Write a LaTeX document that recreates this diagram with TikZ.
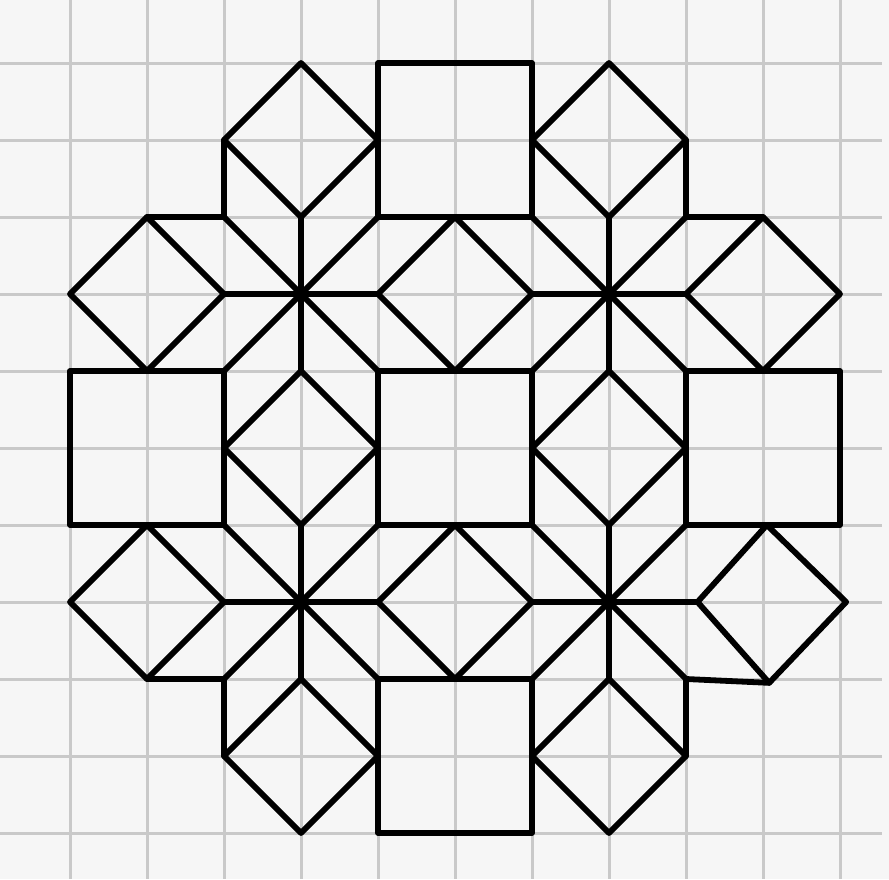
\documentclass[tikz,border=0pt]{standalone}
\begin{document}
\tikzset{
  paper/.style={fill=gray!7},
  gridline/.style={draw=gray!42, line width=3pt},
  ink/.style={draw=black, line width=5.8pt, line join=round, line cap=round},
}
\begin{tikzpicture}[x=1pt,y=1pt]
\useasboundingbox (0,0) rectangle (889,-879);
\fill[paper] (0,0) rectangle (889,-879);
\begin{scope}[shift={(70pt,-63pt)},x=77pt,y=-77pt]
  % grid paper
  \foreach \i in {0,...,10} {
    \draw[gridline] (\i,-0.82) -- (\i,10.6);
    \draw[gridline] (-0.91,\i) -- (10.55,\i);
  }
  % squares
  \foreach \sx/\sy in {4/0,0/4,4/4,8/4,4/8}
    \draw[ink] (\sx,\sy) rectangle ++(2,2);
  % diamonds
  \foreach \cx/\cy in {3/1,7/1,1/3,5/3,9/3,3/5,7/5,1/7,5/7,3/9,7/9}
    \draw[ink] ({\cx},{\cy-1}) -- ({\cx+1},{\cy}) -- ({\cx},{\cy+1}) -- ({\cx-1},{\cy}) -- cycle;
  \coordinate (d97t) at (9.05,6);
  \coordinate (d97r) at (10.08,7);
  \coordinate (d97b) at (9.08,8.05);
  \coordinate (d97l) at (8.15,7);
  \draw[ink] (d97t) -- (d97r) -- (d97b) -- (d97l) -- cycle;
  % eight-pointed stars
  \foreach \cx/\cy in {3/3,7/3,3/7,7/7} {
    \coordinate (c) at (\cx,\cy);
    \foreach \dx/\dy in {0/1,1/1,1/0,1/-1,0/-1,-1/-1,-1/0,-1/1}
      \draw[ink] (c) -- ++(\dx,\dy);
  }
  \coordinate (s77) at (7,7);
  \draw[ink] (s77) -- (d97l);
  % outer corners of the stars
  \draw[ink] (1,2) -- (2,2) -- (2,1);
  \draw[ink] (9,2) -- (8,2) -- (8,1);
  \draw[ink] (1,8) -- (2,8) -- (2,9);
  \draw[ink] (d97b) -- (8,8) -- (8,9);
\end{scope}
\end{tikzpicture}
\end{document}
